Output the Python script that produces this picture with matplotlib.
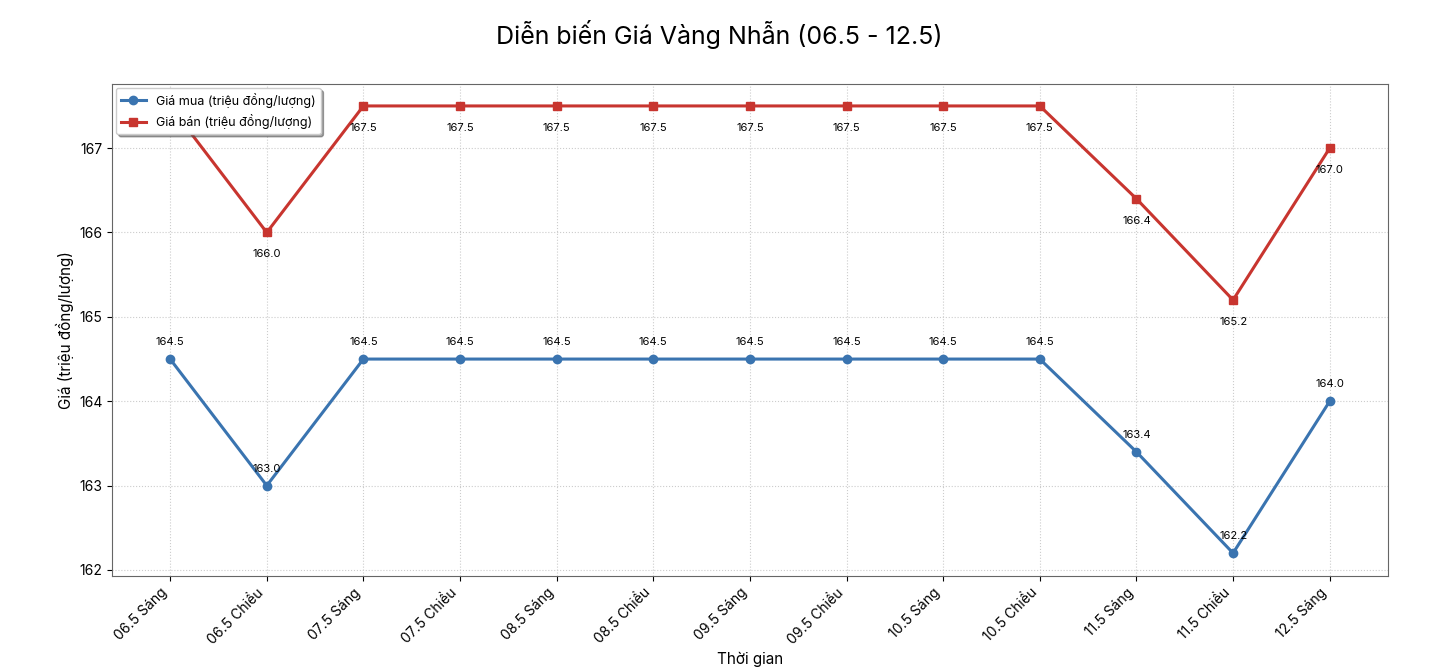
import matplotlib
matplotlib.use("Agg")
import matplotlib.pyplot as plt

plt.rcParams['font.family'] = ['Inter', 'DejaVu Sans']

labels = ["06.5 Sáng","06.5 Chiều","07.5 Sáng","07.5 Chiều","08.5 Sáng","08.5 Chiều",
          "09.5 Sáng","09.5 Chiều","10.5 Sáng","10.5 Chiều","11.5 Sáng","11.5 Chiều","12.5 Sáng"]
buy = [164.5,163.0,164.5,164.5,164.5,164.5,164.5,164.5,164.5,164.5,163.4,162.2,164.0]
sell = [167.5,166.0,167.5,167.5,167.5,167.5,167.5,167.5,167.5,167.5,166.4,165.2,167.0]

fig = plt.figure(figsize=(14.38,6.72), dpi=100)
ax = fig.add_axes([0.078, 0.143, 0.887, 0.732])
x = list(range(len(labels)))
ax.plot(x, buy, color='#3a74b0', marker='o', lw=2.2, ms=6, label='Giá mua (triệu đồng/lượng)')
ax.plot(x, sell, color='#c8352f', marker='s', lw=2.2, ms=6, label='Giá bán (triệu đồng/lượng)')
for i in x:
    ax.annotate(f"{buy[i]:.1f}", (i, buy[i]), xytext=(0,10), textcoords='offset points', ha='center', fontsize=8)
    ax.annotate(f"{sell[i]:.1f}", (i, sell[i]), xytext=(0,-18), textcoords='offset points', ha='center', fontsize=8)
ax.set_xticks(x)
ax.set_xticklabels(labels, rotation=45, ha='right', fontsize=10)
ax.set_ylim(161.93, 167.76)
ax.set_xlim(-0.6, 12.6)
ax.set_yticks([162,163,164,165,166,167])
ax.tick_params(axis='y', labelsize=10)
ax.grid(True, linestyle=':', color='#cccccc', lw=0.8)
ax.set_xlabel('Thời gian', fontsize=11)
ax.set_ylabel('Giá (triệu đồng/lượng)', fontsize=11)
for s in ax.spines.values():
    s.set_color('#666666')
ax.legend(loc='upper left', shadow=True, fancybox=True, fontsize=9, borderaxespad=0.3)
fig.suptitle('Diễn biến Giá Vàng Nhẫn (06.5 - 12.5)', fontsize=18, y=0.97)
fig.savefig('out.png', dpi=100)
